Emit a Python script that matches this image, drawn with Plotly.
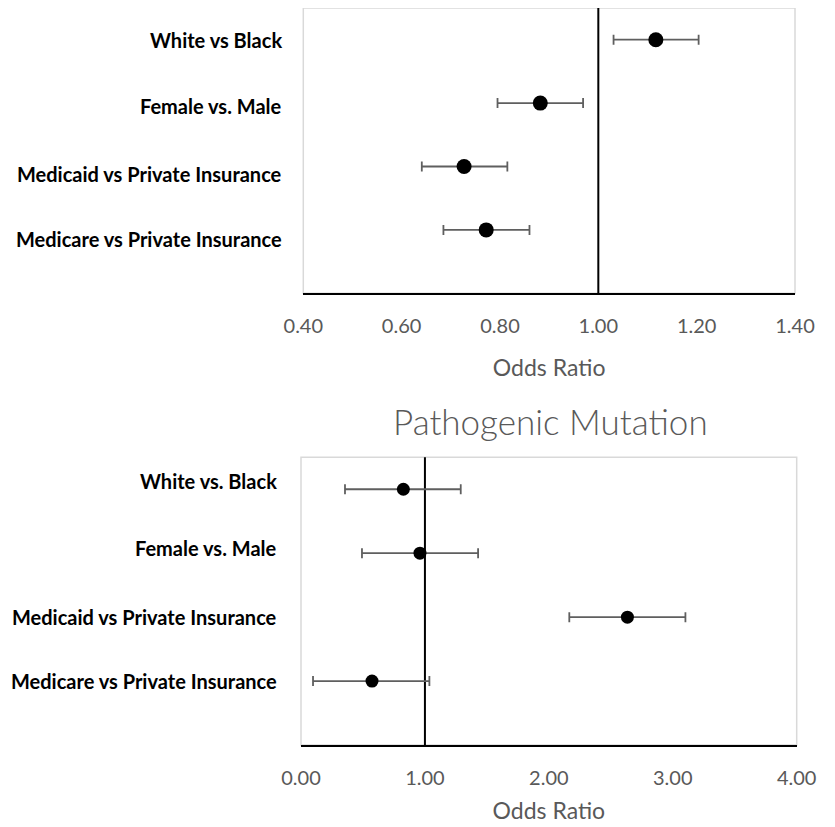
import plotly.graph_objects as go

# ---- data ----
labels_top = ["White vs Black", "Female vs. Male", "Medicaid vs Private Insurance", "Medicare vs Private Insurance"]
labels_bottom = ["White vs. Black", "Female vs. Male", "Medicaid vs Private Insurance", "Medicare vs Private Insurance"]
row_pos = [4, 3, 2, 1]

or_top = [1.117, 0.882, 0.727, 0.772]
lo_top = [1.031, 0.795, 0.641, 0.685]
hi_top = [1.204, 0.969, 0.815, 0.860]

or_bottom = [0.826, 0.960, 2.634, 0.573]
lo_bottom = [0.355, 0.492, 2.165, 0.097]
hi_bottom = [1.289, 1.429, 3.102, 1.036]

bottom_title = "Pathogenic Mutation"
axis_title = "Odds Ratio"
ref_value = 1.0

# ---- styles ----
W, H = 835, 827
OFF = 8  # page body margin compensation (px)
GREY = "#595959"
BORDER = "#D9D9D9"
ERR = "#5f5f5f"
FONT = "Lato"


def px(v):
    return min(1.0, max(0.0, (v - OFF) / W))


def py(v):
    return min(1.0, max(0.0, 1 - (v - OFF) / H))


fig = go.Figure()


def add_panel(fig, xa, ya, ors, los, his, msize):
    fig.add_trace(go.Scatter(
        x=ors, y=row_pos, mode="markers",
        marker=dict(color="black", size=msize),
        error_x=dict(type="data", symmetric=False,
                     array=[h - o for h, o in zip(his, ors)],
                     arrayminus=[o - l for o, l in zip(ors, los)],
                     color=ERR, thickness=1.8, width=5),
        xaxis=xa, yaxis=ya, showlegend=False, hoverinfo="x"))


add_panel(fig, "x", "y", or_top, lo_top, hi_top, 15)
add_panel(fig, "x2", "y2", or_bottom, lo_bottom, hi_bottom, 13)

xcommon = dict(showgrid=False, zeroline=False, showline=True, linecolor="black",
               linewidth=2, ticks="", tickformat=".2f",
               tickfont=dict(family=FONT, size=20, color=GREY),
               title_font=dict(family=FONT, size=23, color=GREY),
               automargin=False, fixedrange=True)
ycommon = dict(showgrid=False, zeroline=False, showline=False, showticklabels=False,
               range=[0, 4.5], automargin=False, fixedrange=True)

fig.update_layout(
    width=W, height=H,
    margin=dict(l=0, r=0, t=0, b=0),
    paper_bgcolor="white", plot_bgcolor="white",
    xaxis=dict(xcommon, domain=[px(303.3), px(795)], range=[0.4, 1.4], dtick=0.2,
               anchor="y", ticklabelstandoff=14, title=dict(text=axis_title, standoff=24)),
    yaxis=dict(ycommon, domain=[py(293.3), py(7)], anchor="x"),
    xaxis2=dict(xcommon, domain=[px(301), px(796.7)], range=[0, 4], dtick=1,
                anchor="y2", ticklabelstandoff=14, title=dict(text=axis_title, standoff=15)),
    yaxis2=dict(ycommon, domain=[py(745), py(457.3)], anchor="x2"),
)

shapes = []
for xa, ya in (("x", "y"), ("x2", "y2")):
    shapes.append(dict(type="rect", xref=f"{xa} domain", yref=f"{ya} domain",
                       x0=0, x1=1, y0=0, y1=1, line=dict(color=BORDER, width=1.5),
                       layer="below"))
    shapes.append(dict(type="line", xref=xa, yref=f"{ya} domain",
                       x0=ref_value, x1=ref_value, y0=0, y1=1,
                       line=dict(color="black", width=2), layer="below"))
fig.update_layout(shapes=shapes)

annotations = []
shift_top = [0, -3, -7, -9]
shift_bottom = [8, 5, 0, 0]
for lab, yv, sh in zip(labels_top, row_pos, shift_top):
    annotations.append(dict(text=lab, xref="paper", yref="y", x=px(284), y=yv,
                            xanchor="right", yanchor="middle", showarrow=False, yshift=sh,
                            font=dict(family=FONT, size=20, color="black", weight="bold")))
for lab, yv, sh in zip(labels_bottom, row_pos, shift_bottom):
    annotations.append(dict(text=lab, xref="paper", yref="y2", x=px(279), y=yv,
                            xanchor="right", yanchor="middle", showarrow=False, yshift=sh,
                            font=dict(family=FONT, size=20, color="black", weight="bold")))
annotations.append(dict(text=bottom_title, xref="paper", yref="paper",
                        x=px(550), y=py(421), xanchor="center", yanchor="middle",
                        showarrow=False,
                        font=dict(family=FONT, size=35, color=GREY, weight=300)))
fig.update_layout(annotations=annotations)

fig.write_html("out.html")
